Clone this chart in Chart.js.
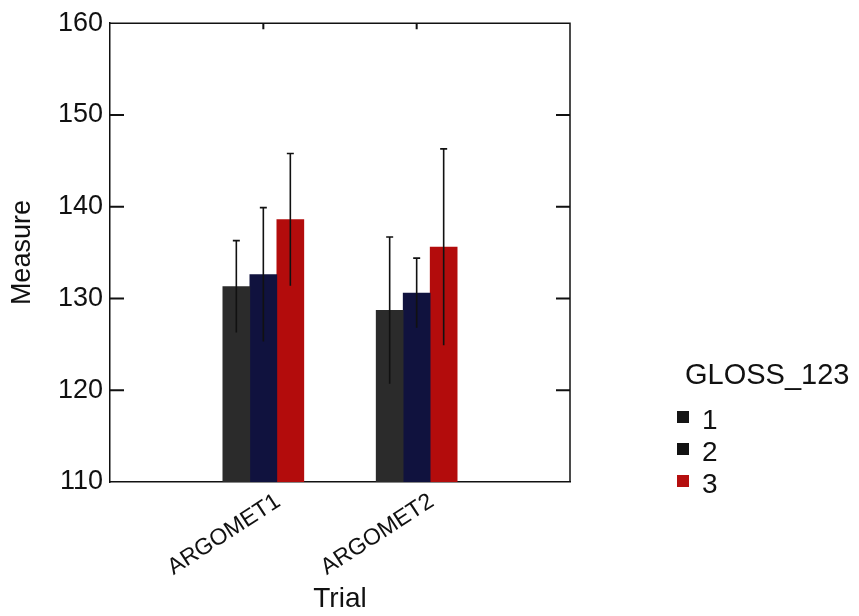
<!DOCTYPE html>
<html>
<head>
<meta charset="utf-8">
<script src="https://cdn.jsdelivr.net/npm/chart.js@4"></script>
<style>
  html, body { margin: 0; padding: 0; background: #fff; }
  #wrap { width: 859px; height: 616px; position: relative; }
</style>
</head>
<body>
<div id="wrap"><canvas id="c" width="859" height="616"></canvas></div>
<script>
// ---- data ----
const categories = ['', 'ARGOMET1', 'ARGOMET2', ''];
const groupLabels = ['1', '2', '3'];
const mean1 = [null, 131.3, 128.7, null];
const mean2 = [null, 132.6, 130.6, null];
const mean3 = [null, 138.6, 135.6, null];
const err1 = [null, 5.0, 8.0, null];
const err2 = [null, 7.3, 3.8, null];
const err3 = [null, 7.2, 10.7, null];
const yTicks = [110, 120, 130, 140, 150, 160];
const legendTitle = 'GLOSS_123';
const xTitle = 'Trial';
const yTitle = 'Measure';

const colors = ['#2b2b2b', '#10123e', '#b30c0c'];
const legendColors = ['#151515', '#121212', '#b50f0f'];
const FONT = "'Liberation Sans', Arial, Helvetica, sans-serif";

const errorBars = {
  id: 'errorBars',
  afterDatasetsDraw(chart) {
    const ctx = chart.ctx;
    const y = chart.scales.y;
    const errs = [err1, err2, err3];
    ctx.save();
    ctx.strokeStyle = '#111';
    ctx.lineWidth = 1.6;
    chart.data.datasets.forEach((ds, di) => {
      const meta = chart.getDatasetMeta(di);
      meta.data.forEach((bar, i) => {
        const v = ds.data[i];
        const e = errs[di][i];
        if (v == null || e == null) return;
        const x = bar.x;
        const yt = y.getPixelForValue(v + e);
        const yb = y.getPixelForValue(v - e);
        ctx.beginPath();
        ctx.moveTo(x, yb); ctx.lineTo(x, yt);
        ctx.moveTo(x - 3.5, yt); ctx.lineTo(x + 3.5, yt);
        ctx.stroke();
      });
    });
    ctx.restore();
  }
};

const frame = {
  id: 'frame',
  afterDraw(chart) {
    const ctx = chart.ctx;
    const a = chart.chartArea;
    const y = chart.scales.y, x = chart.scales.x;
    ctx.save();
    ctx.strokeStyle = '#111';
    ctx.lineWidth = 1.5;
    ctx.beginPath();
    ctx.moveTo(a.left, a.top); ctx.lineTo(a.right, a.top); ctx.lineTo(a.right, a.bottom);
    ctx.stroke();
    ctx.lineWidth = 2;
    ctx.beginPath();
    yTicks.forEach(t => {
      const py = y.getPixelForValue(t);
      if (t !== 110 && t !== 160) {
        ctx.moveTo(a.left, py); ctx.lineTo(a.left + 14, py);
        ctx.moveTo(a.right, py); ctx.lineTo(a.right - 14, py);
      }
    });
    [1, 2].forEach(i => {
      const px = x.getPixelForValue(i);
      ctx.moveTo(px, a.top); ctx.lineTo(px, a.top + 6);
    });
    ctx.stroke();
    // legend
    ctx.fillStyle = '#111';
    ctx.textBaseline = 'middle';
    ctx.textAlign = 'left';
    ctx.font = '29px ' + FONT;
    ctx.fillText(legendTitle, 685, 376);
    ctx.font = '28px ' + FONT;
    chart.data.datasets.forEach((ds, i) => {
      const cy = 417 + i * 32;
      ctx.fillStyle = legendColors[i];
      ctx.fillRect(677, cy - 6, 12, 12);
      ctx.fillStyle = '#111';
      ctx.fillText(ds.label, 702, cy + 4);
    });
    ctx.restore();
  }
};

new Chart(document.getElementById('c'), {
  type: 'bar',
  data: {
    labels: categories,
    datasets: [
      { label: groupLabels[0], data: mean1, backgroundColor: colors[0] },
      { label: groupLabels[1], data: mean2, backgroundColor: colors[1] },
      { label: groupLabels[2], data: mean3, backgroundColor: colors[2] }
    ]
  },
  options: {
    responsive: false,
    animation: false,
    devicePixelRatio: 1,
    barThickness: 27,
    layout: { padding: { top: 20, right: 289, left: 0, bottom: 0 } },
    plugins: { legend: { display: false }, tooltip: { enabled: false } },
    scales: {
      x: {
        type: 'category',
        offset: false,
        afterFit: s => { s.height = 134; },
        grid: { display: false, drawTicks: false },
        border: { display: true, color: '#111', width: 1.5 },
        ticks: {
          autoSkip: false, minRotation: 33, maxRotation: 33,
          padding: 6, labelOffset: 15,
          color: '#111', font: { family: FONT, size: 23 }
        },
        title: { display: true, text: xTitle, color: '#111', font: { family: FONT, size: 28 }, padding: { top: 0, bottom: 0 } }
      },
      y: {
        min: 110, max: 160,
        afterFit: s => { s.width = 110; },
        afterBuildTicks: s => { s.ticks = yTicks.map(v => ({ value: v })); },
        grid: { display: false, drawTicks: false },
        border: { display: true, color: '#111', width: 1.5 },
        ticks: { padding: 7, color: '#111', font: { family: FONT, size: 27 } },
        title: { display: true, text: yTitle, color: '#111', font: { family: FONT, size: 27 }, padding: { top: 6, bottom: 0 } }
      }
    }
  },
  plugins: [errorBars, frame]
});
</script>
</body>
</html>
